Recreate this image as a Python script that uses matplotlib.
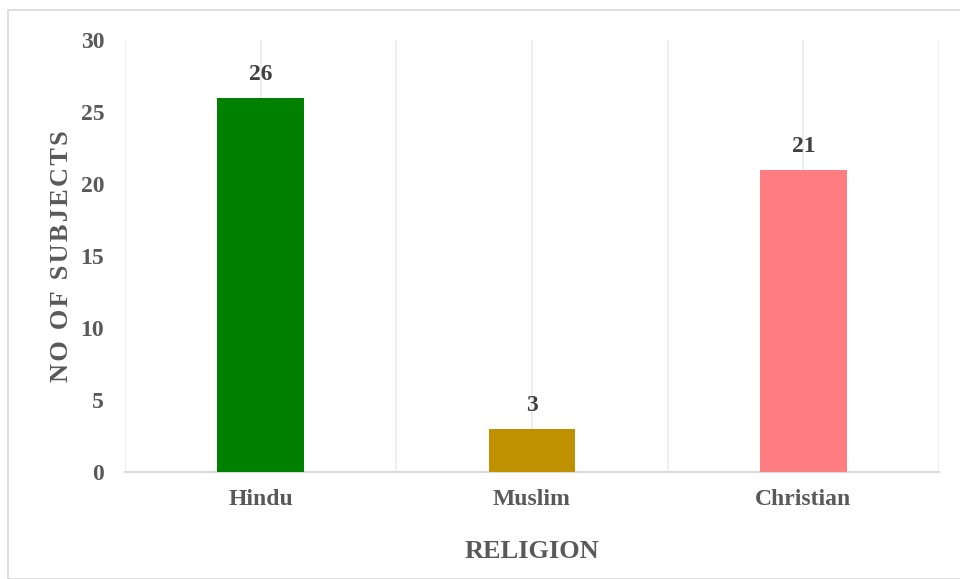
import matplotlib.pyplot as plt
from matplotlib.patches import Rectangle

religions = ["Hindu", "Muslim", "Christian"]
subjects = [26, 3, 21]
bar_colors = ["#008000", "#BF9000", "#FF7C80"]
y_ticks = [0, 5, 10, 15, 20, 25, 30]

plt.rcParams['font.family'] = ['Liberation Serif', 'DejaVu Serif']
plt.rcParams['font.weight'] = 'bold'
plt.rcParams['axes.labelweight'] = 'bold'

fig = plt.figure(figsize=(9.6, 5.79), dpi=100)
# light frame round the whole chart area
fig.patches.append(Rectangle((8 / 960, 0), 1, 1 - 10 / 579, transform=fig.transFigure,
                             fill=False, edgecolor="#d9d9d9", linewidth=1.2))

ax = fig.add_axes([125 / 960, 1 - 472 / 579, (939 - 125) / 960, (472 - 40) / 579])
x = list(range(len(religions)))
bars = ax.bar(x, subjects, width=0.32, color=bar_colors, zorder=3)

ax.set_xlim(-0.5, len(religions) - 0.5)
ax.set_ylim(0, 30)
ax.set_yticks(y_ticks)
ax.set_xticks(x)
ax.set_xticklabels(religions)

# vertical grid at every half category
for gx in [-0.5, 0, 0.5, 1, 1.5, 2, 2.5]:
    ax.axvline(gx, color="#ebebeb", linewidth=1.2, zorder=1)

for side in ["top", "right", "left"]:
    ax.spines[side].set_visible(False)
ax.spines["bottom"].set_color("#d9d9d9")
ax.spines["bottom"].set_linewidth(1.5)

ax.tick_params(axis="both", length=0, labelsize=17, labelcolor="#595959")
ax.tick_params(axis="y", pad=15)
ax.tick_params(axis="x", pad=12)

for b, v in zip(bars, subjects):
    ax.annotate(str(v), (b.get_x() + b.get_width() / 2, v), xytext=(0, 9),
                textcoords="offset points", ha="center", va="bottom",
                fontsize=17, fontweight="bold", color="#404040")

# spread the letters of the y title a little with hair spaces
ylab = "\u200a".join("NO OF SUBJECTS")
ax.set_xlabel("RELIGION", fontsize=19, fontweight="bold", color="#595959", labelpad=22)
ax.set_ylabel(ylab, fontsize=19, fontweight="bold", color="#595959", labelpad=5)

fig.savefig("out.png", dpi=100)
